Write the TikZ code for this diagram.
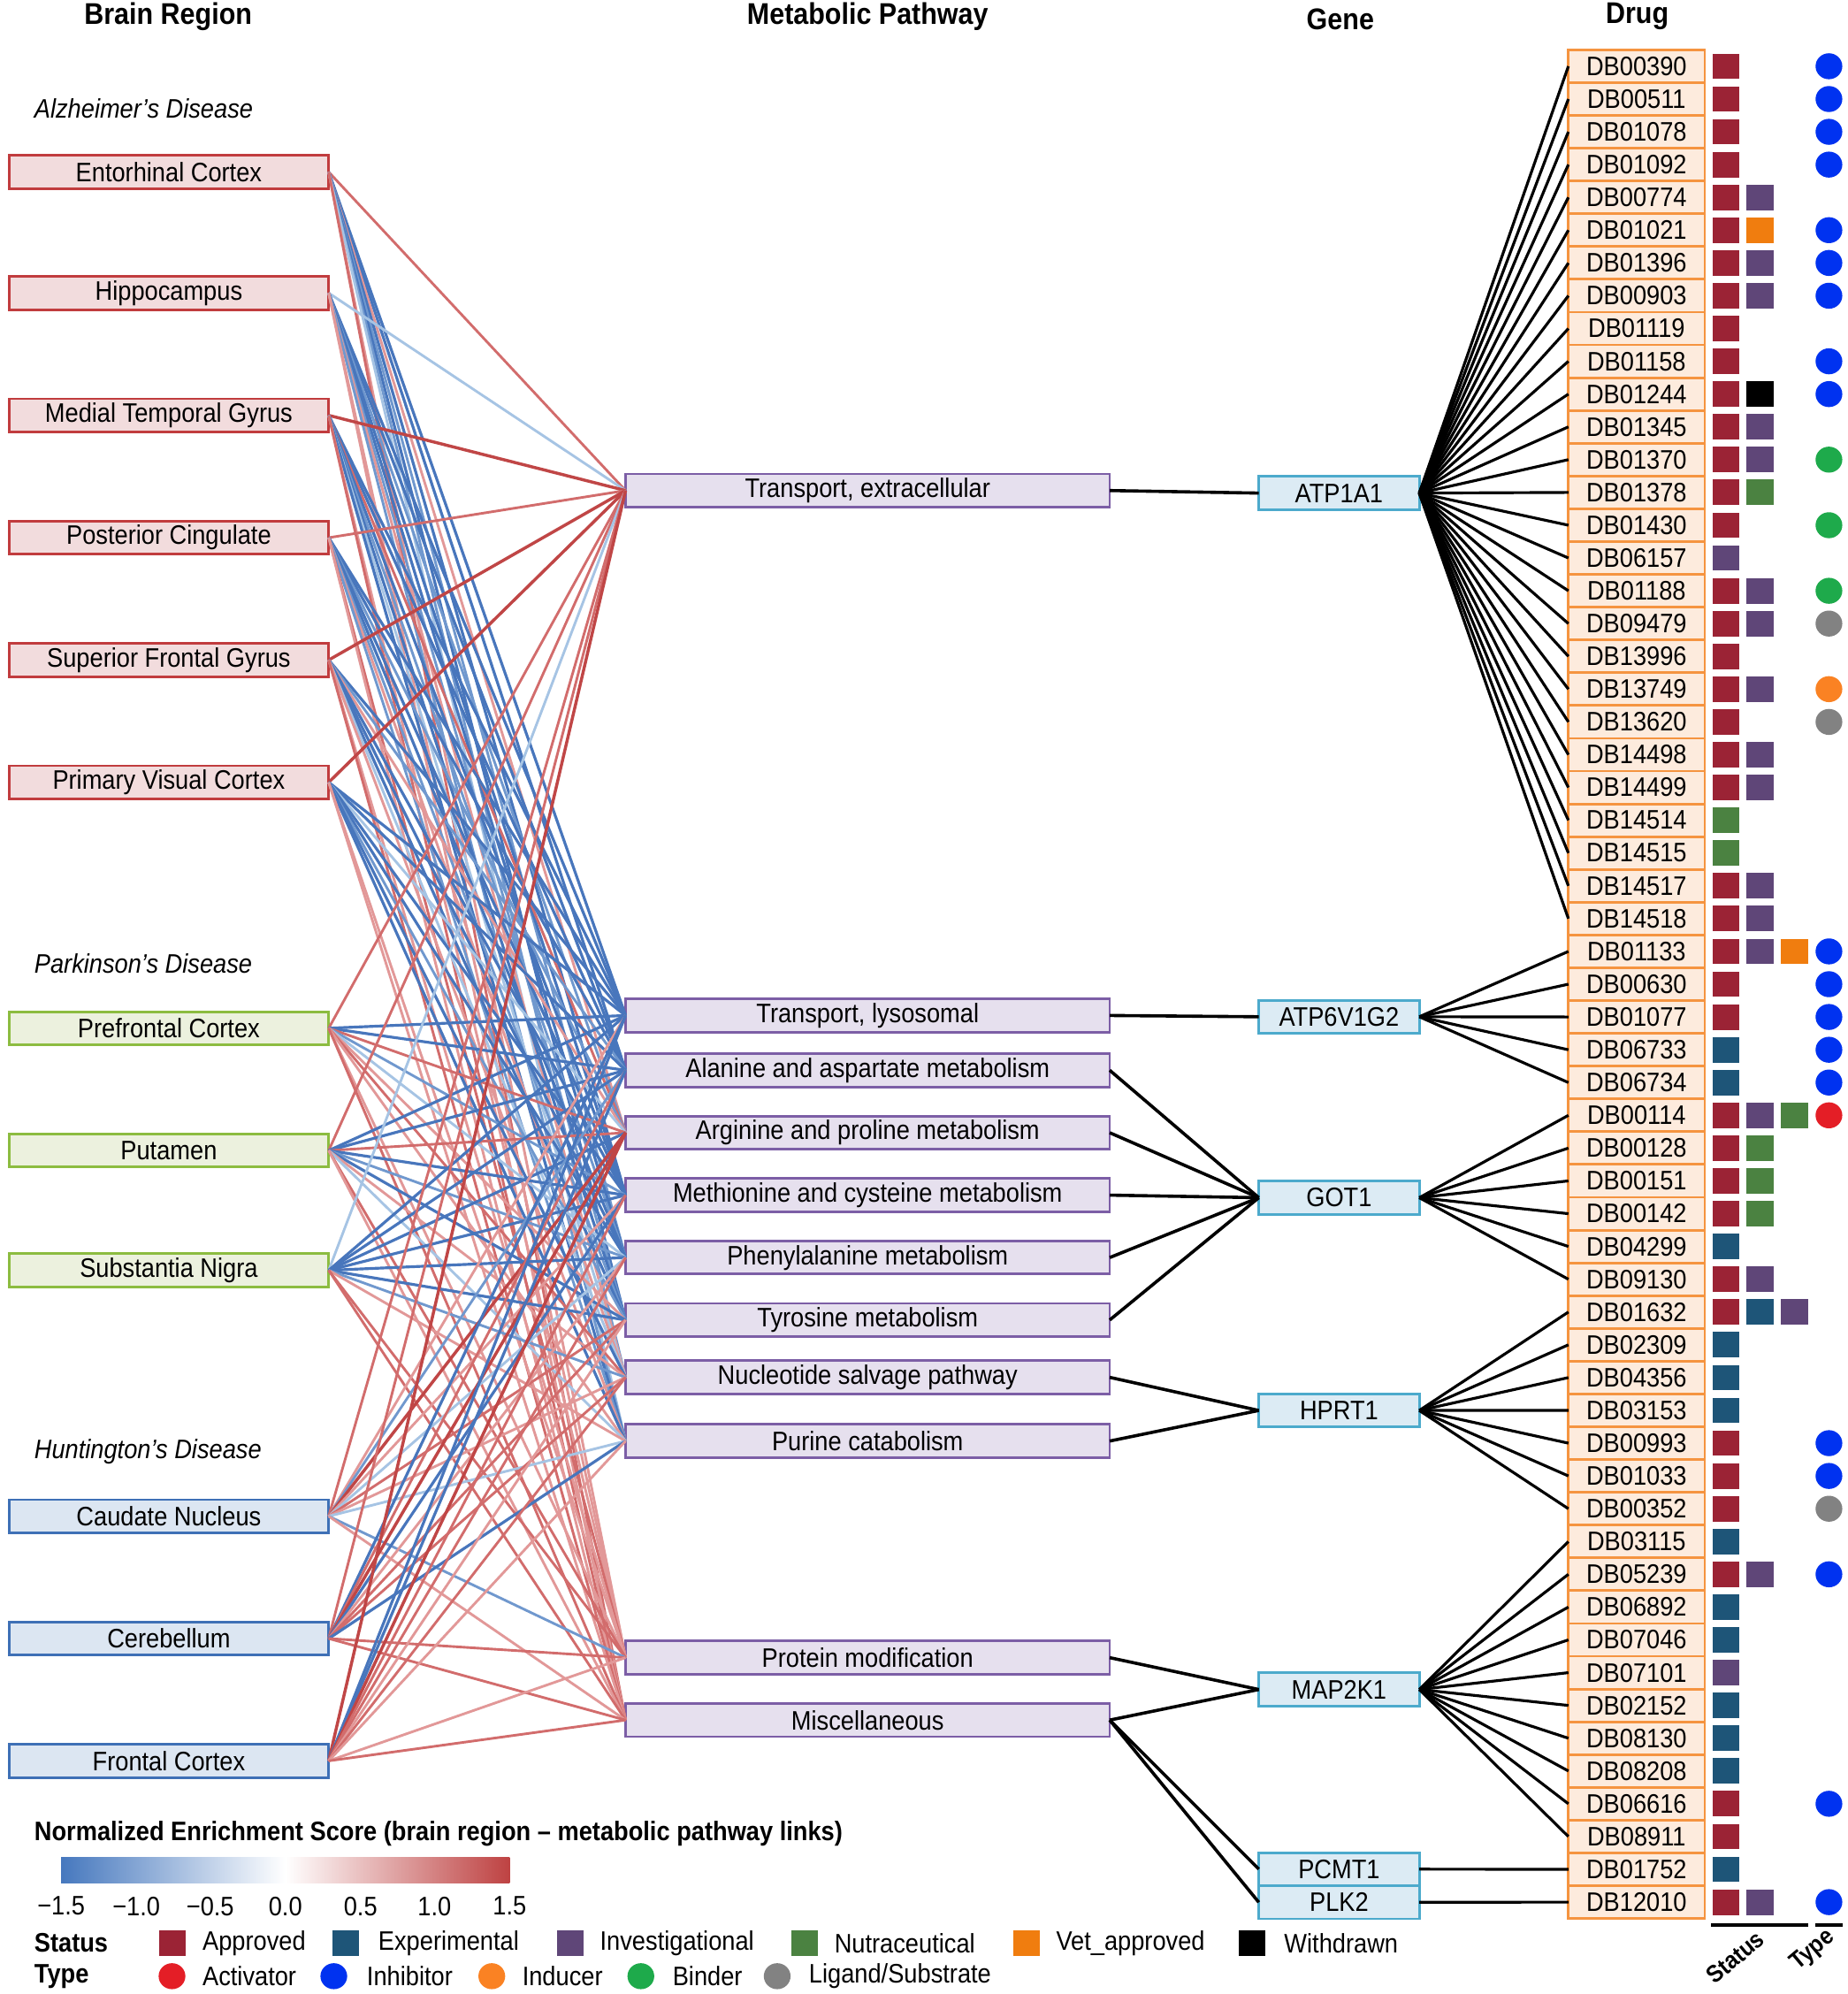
\documentclass[tikz,border=0pt]{standalone}
\usepackage{fontspec}
\setmainfont{Liberation Sans}[FakeStretch=0.9]
\definecolor{adB}{RGB}{193,60,62}
\definecolor{adF}{RGB}{242,220,221}
\definecolor{pdB}{RGB}{140,188,64}
\definecolor{pdF}{RGB}{236,241,222}
\definecolor{hdB}{RGB}{62,112,182}
\definecolor{hdF}{RGB}{220,230,242}
\definecolor{pwB}{RGB}{124,94,166}
\definecolor{pwF}{RGB}{230,224,238}
\definecolor{gnB}{RGB}{76,170,204}
\definecolor{gnF}{RGB}{220,235,244}
\definecolor{drB}{RGB}{245,148,64}
\definecolor{drF}{RGB}{253,235,221}
\definecolor{stA}{RGB}{155,35,53}
\definecolor{stE}{RGB}{30,85,120}
\definecolor{stI}{RGB}{95,70,120}
\definecolor{stN}{RGB}{75,130,65}
\definecolor{stV}{RGB}{240,125,15}
\definecolor{stW}{RGB}{0,0,0}
\definecolor{tyAc}{RGB}{228,30,38}
\definecolor{tyIn}{RGB}{0,50,240}
\definecolor{tyId}{RGB}{250,130,35}
\definecolor{tyBi}{RGB}{30,170,75}
\definecolor{tyLi}{RGB}{130,130,130}
\definecolor{lnB3}{RGB}{72,118,188}
\definecolor{lnB2}{RGB}{112,152,206}
\definecolor{lnB1}{RGB}{166,196,228}
\definecolor{lnR1}{RGB}{226,152,152}
\definecolor{lnR2}{RGB}{210,108,108}
\definecolor{lnR3}{RGB}{192,70,70}
\definecolor{cbBlue}{RGB}{70,120,190}
\definecolor{cbRed}{RGB}{190,66,66}
\begin{document}
\begin{tikzpicture}[x=1pt,y=-1pt,
  every node/.style={inner sep=0pt, outer sep=0pt},
  txt/.style={font=\fontsize{21}{25}\selectfont},
  header/.style={font=\fontsize{23.5}{28}\selectfont\bfseries},
  dis/.style={font=\fontsize{21}{25}\selectfont\itshape, anchor=west},
  region/.style={draw, line width=2pt, minimum width=251pt, minimum height=26pt, txt},
  adbox/.style={region, draw=adB, fill=adF},
  pdbox/.style={region, draw=pdB, fill=pdF},
  hdbox/.style={region, draw=hdB, fill=hdF},
  pwbox/.style={draw=pwB, fill=pwF, line width=2pt, minimum width=380pt, minimum height=26pt, txt},
  gnbox/.style={draw=gnB, fill=gnF, line width=2pt, minimum width=126pt, minimum height=26pt, txt},
  drbox/.style={draw=drB, fill=drF, line width=2pt, minimum width=107pt, minimum height=25.73pt, txt},
  B3/.style={draw=lnB3, line width=2.2pt},
  B2/.style={draw=lnB2, line width=2pt},
  B1/.style={draw=lnB1, line width=2pt},
  R1/.style={draw=lnR1, line width=2pt},
  R2/.style={draw=lnR2, line width=2pt},
  R3/.style={draw=lnR3, line width=2.4pt},
  blk/.style={draw=black, line width=2.5pt},
  legtxt/.style={font=\fontsize{21}{25}\selectfont, anchor=west},
  legbold/.style={font=\fontsize{21}{25}\selectfont\bfseries, anchor=west},
  collab/.style={font=\fontsize{19}{22}\selectfont\bfseries, rotate=40}
]
\useasboundingbox (0,0) rectangle (1450,1565);
\fill[white] (0,0) rectangle (1450,1565);

% headers
\node[header] (hBR) at (132,13) {Brain Region};
\node[header] (hMP) at (681,13) {Metabolic Pathway};
\node[header] (hGN) at (1052,15) {Gene};
\node[header] (hDR) at (1285,13) {Drug};

% disease labels
\node[dis] (dAD) at (27,85) {Alzheimer's Disease};
\node[dis] (dPD) at (27,756) {Parkinson's Disease};
\node[dis] (dHD) at (27,1139) {Huntington's Disease};

% brain regions
\node[adbox] (r1) at (132.5,135) {Entorhinal Cortex};
\node[adbox] (r2) at (132.5,230) {Hippocampus};
\node[adbox] (r3) at (132.5,326) {Medial Temporal Gyrus};
\node[adbox] (r4) at (132.5,422) {Posterior Cingulate};
\node[adbox] (r5) at (132.5,518) {Superior Frontal Gyrus};
\node[adbox] (r6) at (132.5,614) {Primary Visual Cortex};
\node[pdbox] (r7) at (132.5,807) {Prefrontal Cortex};
\node[pdbox] (r8) at (132.5,903) {Putamen};
\node[pdbox] (r9) at (132.5,997) {Substantia Nigra};
\node[hdbox] (r10) at (132.5,1190) {Caudate Nucleus};
\node[hdbox] (r11) at (132.5,1286) {Cerebellum};
\node[hdbox] (r12) at (132.5,1382) {Frontal Cortex};

% pathways
\node[pwbox] (p1) at (681,385) {Transport, extracellular};
\node[pwbox] (p2) at (681,797) {Transport, lysosomal};
\node[pwbox] (p3) at (681,840) {Alanine and aspartate metabolism};
\node[pwbox] (p4) at (681,889) {Arginine and proline metabolism};
\node[pwbox] (p5) at (681,938) {Methionine and cysteine metabolism};
\node[pwbox] (p6) at (681,987) {Phenylalanine metabolism};
\node[pwbox] (p7) at (681,1036) {Tyrosine metabolism};
\node[pwbox] (p8) at (681,1081) {Nucleotide salvage pathway};
\node[pwbox] (p9) at (681,1131) {Purine catabolism};
\node[pwbox] (p10) at (681,1301) {Protein modification};
\node[pwbox] (p11) at (681,1350) {Miscellaneous};

% genes
\node[gnbox] (gATP1A1) at (1051,387) {ATP1A1};
\node[gnbox] (gATP6V1G2) at (1051,798) {ATP6V1G2};
\node[gnbox] (gGOT1) at (1051,940) {GOT1};
\node[gnbox] (gHPRT1) at (1051,1107) {HPRT1};
\node[gnbox] (gMAP2K1) at (1051,1326) {MAP2K1};
\node[gnbox] (gPCMT1) at (1051,1467) {PCMT1};
\node[gnbox] (gPLK2) at (1051,1493) {PLK2};

% brain region -> pathway links
\foreach \r/\lst in {
  1/{R2,B3,B3,R1,B3,B2,B3,B2,B1,R1,R2},
  2/{B1,B3,B3,B2,B3,B3,B2,R1,B2,R1,R1},
  3/{R3,B3,B3,R2,B3,B2,B3,B1,B3,R1,R2},
  4/{R2,B3,B3,B2,B3,B3,B2,R1,B2,R2,R1},
  5/{R3,B3,B2,R1,B3,B3,B3,B1,R1,R1,R2},
  6/{R3,B3,B3,B1,B3,B3,B2,B3,B3,R1,R1},
  7/{R2,B3,B3,R2,B2,B1,R1,R2,R1,R1,R2},
  8/{R2,B3,B3,R2,B3,B2,B3,R1,B1,R2,R1},
  9/{B1,B3,B3,B3,B3,B3,B3,B2,R1,R2,R2},
  10/{R2,R1,B2,R3,R1,B1,R2,R1,B1,B2,R1},
  11/{R2,B3,R2,R3,B3,R1,R2,R2,B3,R2,R2},
  12/{R3,B3,B3,R3,R2,R2,R1,R2,R1,R1,R2}}{
  \foreach \c [count=\p] in \lst {
    \draw[\c] (r\r.east) -- (p\p.west);
  }
}

% pathway -> gene links
\draw[blk] (p1.east) -- (gATP1A1.west);
\draw[blk] (p2.east) -- (gATP6V1G2.west);
\foreach \p in {3,4,5,6,7} { \draw[blk] (p\p.east) -- (gGOT1.west); }
\foreach \p in {8,9} { \draw[blk] (p\p.east) -- (gHPRT1.west); }
\foreach \p in {10,11} { \draw[blk] (p\p.east) -- (gMAP2K1.west); }
\draw[blk] (p11.east) -- (gPCMT1.west);
\draw[blk] (p11.east) -- (gPLK2.west);

% drugs
\foreach \n [count=\i] in {DB00390,DB00511,DB01078,DB01092,DB00774,DB01021,DB01396,DB00903,DB01119,DB01158,DB01244,DB01345,DB01370,DB01378,DB01430,DB06157,DB01188,DB09479,DB13996,DB13749,DB13620,DB14498,DB14499,DB14514,DB14515,DB14517,DB14518,DB01133,DB00630,DB01077,DB06733,DB06734,DB00114,DB00128,DB00151,DB00142,DB04299,DB09130,DB01632,DB02309,DB04356,DB03153,DB00993,DB01033,DB00352,DB03115,DB05239,DB06892,DB07046,DB07101,DB02152,DB08130,DB08208,DB06616,DB08911,DB01752,DB12010} {
  \node[drbox] (d\i) at (1284.5,{52+(\i-1)*25.73}) {\n};
}

% gene -> drug links
\foreach \i in {1,...,27} { \draw[blk, line width=2.2pt] (gATP1A1.east) -- (d\i.west); }
\foreach \i in {28,...,32} { \draw[blk, line width=2.2pt] (gATP6V1G2.east) -- (d\i.west); }
\foreach \i in {33,...,38} { \draw[blk, line width=2.2pt] (gGOT1.east) -- (d\i.west); }
\foreach \i in {39,...,45} { \draw[blk, line width=2.2pt] (gHPRT1.east) -- (d\i.west); }
\foreach \i in {46,...,55} { \draw[blk, line width=2.2pt] (gMAP2K1.east) -- (d\i.west); }
\draw[blk, line width=2.2pt] (gPCMT1.east) -- (d56.west);
\draw[blk, line width=2.2pt] (gPLK2.east) -- (d57.west);

% status squares: first column
\foreach \s [count=\i] in {A,A,A,A,A,A,A,A,A,A,A,A,A,A,A,I,A,A,A,A,A,A,A,N,N,A,A,A,A,A,E,E,A,A,A,A,E,A,A,E,E,E,A,A,A,E,A,E,E,I,E,E,E,A,A,E,A} {
  \fill[st\s] (1344,{52+(\i-1)*25.73-10}) rectangle ++(21,20);
}
% second column
\foreach \i/\s in {5/I,6/V,7/I,8/I,11/W,12/I,13/I,14/N,17/I,18/I,20/I,22/I,23/I,26/I,27/I,28/I,33/I,34/N,35/N,36/N,38/I,39/E,47/I,57/I} {
  \fill[st\s] (1371,{52+(\i-1)*25.73-10}) rectangle ++(21,20);
}
% third column
\foreach \i/\s in {28/V,33/N,39/I} {
  \fill[st\s] (1398,{52+(\i-1)*25.73-10}) rectangle ++(21,20);
}
% type circles
\foreach \i/\t in {1/In,2/In,3/In,4/In,6/In,7/In,8/In,10/In,11/In,13/Bi,15/Bi,17/Bi,18/Li,20/Id,21/Li,28/In,29/In,30/In,31/In,32/In,33/Ac,43/In,44/In,45/Li,47/In,54/In,57/In} {
  \fill[ty\t] (1435.5,{52+(\i-1)*25.73}) ellipse (10.5 and 10.2);
}

% Status / Type column labels
\draw[black, line width=2.5pt] (1343,1511) -- (1419,1511);
\draw[black, line width=2.5pt] (1425,1511) -- (1446,1511);
\node[collab] (lStatus) at (1362,1536) {Status};
\node[collab] (lType) at (1423,1531) {Type};

% colour bar legend
\node[legbold] (lgTitle) at (27,1439) {Normalized Enrichment Score (brain region -- metabolic pathway links)};
\shade[left color=cbBlue, right color=cbRed, middle color=white] (48,1458) rectangle (400,1478);
\foreach \v/\x in {−1.5/48,−1.0/107,−0.5/165,0.0/224,0.5/283,1.0/341,1.5/400} {
  \node[txt] at (\x,1496) {\v};
}

% status legend
\node[legbold] (lgS) at (27,1525) {Status};
\foreach \s/\x/\tx/\lab in {A/125/159/{Approved},E/261/297/{Experimental},I/437/471/{Investigational},N/621/655/{Nutraceutical},V/795/829/{Vet\_approved},W/972/1008/{Withdrawn}} {
  \fill[st\s] (\x,1515) rectangle ++(21,20);
  \node[legtxt] at (\tx,1525) {\lab};
}
% type legend
\node[legbold] (lgT) at (27,1551) {Type};
\foreach \t/\x/\tx/\lab in {Ac/135/159/{Activator},In/262/288/{Inhibitor},Id/386/410/{Inducer},Bi/503/528/{Binder},Li/610/635/{Ligand/Substrate}} {
  \fill[ty\t] (\x,1551) ellipse (10.5 and 10.2);
  \node[legtxt] at (\tx,1551) {\lab};
}
\end{tikzpicture}
\end{document}
